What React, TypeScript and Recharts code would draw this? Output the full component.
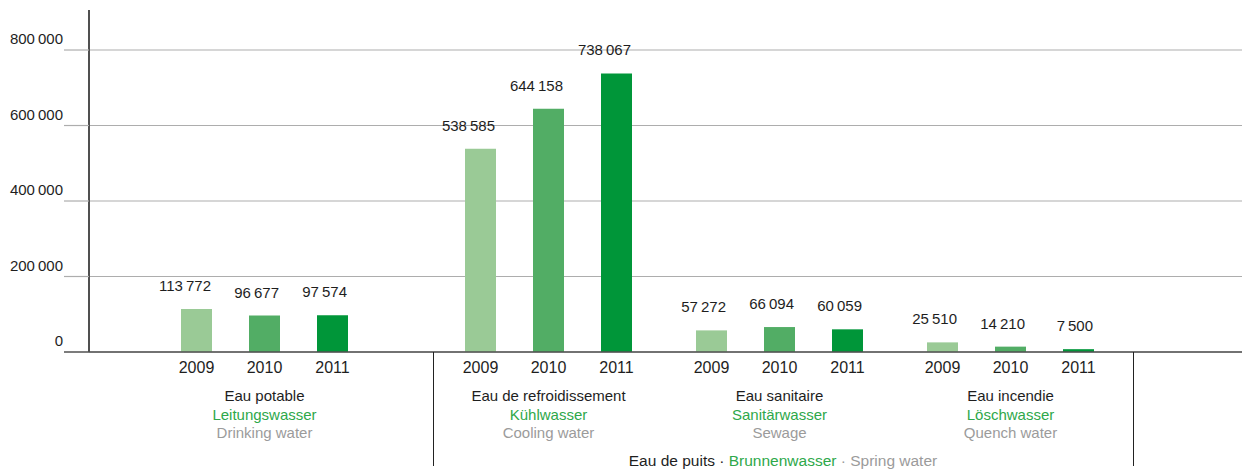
import { Bar, BarChart, CartesianGrid, LabelList, ReferenceLine, XAxis, YAxis } from "recharts";

const FONT = "'Liberation Sans', Arial, Helvetica, sans-serif";
const DARK = "#1E1E1E";
const GREEN_TXT = "#2EA84A";
const GREY_TXT = "#9B9B9B";
const AXIS = "#505050";
const GRID = "#ADADAD";

const YEARS = ["2009", "2010", "2011"];
const YEAR_COLORS = ["#9ACA96", "#52AD65", "#009639"];

const CAT_FR = ["Eau potable", "Eau de refroidissement", "Eau sanitaire", "Eau incendie"];
const CAT_DE = ["Leitungswasser", "Kühlwasser", "Sanitärwasser", "Löschwasser"];
const CAT_EN = ["Drinking water", "Cooling water", "Sewage", "Quench water"];

const V2009 = [113772, 538585, 57272, 25510];
const V2010 = [96677, 644158, 66094, 14210];
const V2011 = [97574, 738067, 60059, 7500];

const Y_TICKS = [0, 200000, 400000, 600000, 800000];
const Y_MAX = 906000;

const rows = CAT_FR.map((fr, i) => ({
  fr,
  de: CAT_DE[i],
  en: CAT_EN[i],
  y2009: V2009[i],
  y2010: V2010[i],
  y2011: V2011[i],
}));

const fmt = (n: number) => String(n).replace(/\B(?=(\d{3})+(?!\d))/g, "\u2009");

const H = 470;
const PLOT_TOP = 10;
const AXIS_H = 118;

function YTick({ x, y, payload }: any) {
  const v = payload.value as number;
  return (
    <g>
      <line x1={64} x2={x + 8} y1={y} y2={y} stroke={v === 0 ? AXIS : GRID} strokeWidth={v === 0 ? 1.5 : 1.2} />
      <text x={63} y={y - 6} textAnchor="end" fontSize={15} fontFamily={FONT} fill={DARK}>
        {fmt(v)}
      </text>
    </g>
  );
}

function CatTick({ x, y, payload, index, offsetIdx }: any) {
  const i = (offsetIdx ?? 0) + (index ?? 0);
  return (
    <g fontFamily={FONT} fontSize={15} textAnchor="middle">
      <text x={x} y={y + 41} fill={DARK}>{CAT_FR[i] ?? payload.value}</text>
      <text x={x} y={y + 59.5} fill={GREEN_TXT}>{CAT_DE[i]}</text>
      <text x={x} y={y + 78} fill={GREY_TXT}>{CAT_EN[i]}</text>
    </g>
  );
}

function ValueLabel({ x, y, width, value }: any) {
  return (
    <text x={x + width - 1} y={y - 18} textAnchor="end" fontSize={15} fontFamily={FONT} fill={DARK}>
      {fmt(value)}
    </text>
  );
}

function yearLabel(year: string) {
  return ({ x, y, width, height }: any) => (
    <text x={x + width / 2} y={y + height + 21} textAnchor="middle" fontSize={16} fontFamily={FONT} fill={DARK}>
      {year}
    </text>
  );
}

function Bars() {
  return YEARS.map((yr, k) => (
    <Bar key={yr} dataKey={`y${yr}`} fill={YEAR_COLORS[k]} barSize={31} isAnimationActive={false}>
      <LabelList dataKey={`y${yr}`} content={ValueLabel} />
      <LabelList dataKey={`y${yr}`} content={yearLabel(yr)} />
    </Bar>
  ));
}

export default function App() {
  const dataA = rows.slice(0, 1);
  const dataB = rows.slice(1);
  return (
    <div style={{ position: "relative", width: 1242, height: H, background: "#fff", overflow: "hidden" }}>
      <style>{"body{margin:0}"}</style>
      <div style={{ position: "absolute", left: 0, top: 0 }}>
        <BarChart width={433} height={H} data={dataA} margin={{ top: PLOT_TOP, right: 0, left: 0, bottom: 0 }} barGap={37}>
          <CartesianGrid vertical={false} stroke={GRID} strokeWidth={1.2} syncWithTicks />
          <XAxis dataKey="fr" height={AXIS_H} axisLine={false} tickLine={false} padding={{ left: 7, right: 0 }} tick={<CatTick offsetIdx={0} />} interval={0} />
          <YAxis width={89} domain={[0, Y_MAX]} ticks={Y_TICKS} tick={<YTick />} tickLine={false} axisLine={{ stroke: AXIS, strokeWidth: 2 }} />
          <ReferenceLine y={0} stroke={AXIS} strokeWidth={1.5} />
          {Bars()}
        </BarChart>
      </div>
      <div style={{ position: "absolute", left: 433, top: 0 }}>
        <BarChart width={809} height={H} data={dataB} margin={{ top: PLOT_TOP, right: 0, left: 0, bottom: 0 }} barGap={37}>
          <CartesianGrid vertical={false} stroke={GRID} strokeWidth={1.2} syncWithTicks />
          <XAxis dataKey="fr" height={AXIS_H} axisLine={false} tickLine={false} padding={{ left: 0, right: 116 }} tick={<CatTick offsetIdx={1} />} interval={0} />
          <YAxis hide domain={[0, Y_MAX]} ticks={Y_TICKS} />
          <ReferenceLine y={0} stroke={AXIS} strokeWidth={1.5} />
          {Bars()}
        </BarChart>
      </div>
      <div style={{ position: "absolute", left: 433, top: 352, width: 1, height: 114, background: "#222" }} />
      <div style={{ position: "absolute", left: 1133, top: 352, width: 1, height: 114, background: "#222" }} />
      <div
        style={{
          position: "absolute",
          left: 433,
          width: 700,
          top: 452,
          textAlign: "center",
          fontFamily: FONT,
          fontSize: 15.5,
          lineHeight: "18px",
          whiteSpace: "nowrap",
        }}
      >
        <span style={{ color: DARK }}>Eau de puits · </span>
        <span style={{ color: GREEN_TXT }}>Brunnenwasser</span>
        <span style={{ color: GREY_TXT }}> · Spring water</span>
      </div>
    </div>
  );
}
